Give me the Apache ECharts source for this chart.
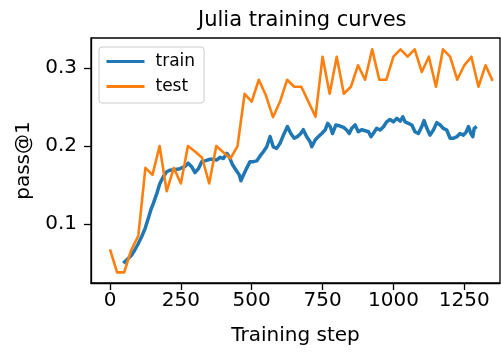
<!DOCTYPE html>
<html>
<head>
<meta charset="utf-8">
<script src="https://cdn.jsdelivr.net/npm/echarts@6/dist/echarts.min.js"></script>
<style>
html,body{margin:0;padding:0;background:#fff;}
#c{width:501px;height:354px;}
</style>
</head>
<body>
<div id="c"></div>
<script>
const titleText = 'Julia training curves';
const xName = 'Training step';
const yName = 'pass@1';
const xTicks = [0, 250, 500, 750, 1000, 1250];
const yTicks = [0.1, 0.2, 0.3];

const trainSteps = [47,53,65,76,88,100,112,124,135,144,153,165,176,188,200,212,229,247,265,276,288,300,312,324,335,353,365,376,388,400,412,421,433,445,456,462,471,482,494,506,518,529,541,553,565,576,588,600,612,626,638,650,661,673,682,694,706,712,724,735,747,759,768,777,785,797,812,824,835,844,853,865,876,888,900,912,921,929,941,953,965,976,988,1000,1012,1024,1033,1041,1053,1065,1076,1088,1100,1108,1118,1129,1141,1153,1165,1176,1188,1200,1212,1224,1235,1247,1257,1265,1273,1280,1285,1294];
const trainValues = [0.0496,0.049,0.056,0.060,0.067,0.075,0.084,0.0945,0.107,0.118,0.1265,0.139,0.152,0.1605,0.167,0.169,0.170,0.171,0.174,0.178,0.1735,0.166,0.171,0.180,0.181,0.183,0.183,0.182,0.1855,0.184,0.1906,0.186,0.1756,0.169,0.163,0.1555,0.163,0.1714,0.180,0.180,0.181,0.187,0.1927,0.199,0.212,0.199,0.197,0.2035,0.214,0.225,0.216,0.210,0.212,0.216,0.221,0.212,0.2055,0.199,0.2077,0.212,0.216,0.2205,0.229,0.225,0.216,0.227,0.2256,0.224,0.2205,0.216,0.2227,0.227,0.2183,0.221,0.2196,0.2183,0.212,0.216,0.2227,0.2205,0.2247,0.231,0.234,0.231,0.2355,0.232,0.2375,0.231,0.229,0.227,0.2183,0.216,0.225,0.2325,0.2227,0.214,0.2205,0.230,0.227,0.2227,0.2205,0.210,0.210,0.212,0.216,0.214,0.2183,0.225,0.216,0.212,0.2227,0.225];

const testSteps = [0,25,50,75,100,125,150,175,200,225,250,275,300,325,350,375,400,425,450,475,500,525,550,575,600,625,650,675,700,725,750,775,800,825,850,875,900,925,950,975,1000,1025,1050,1075,1100,1125,1150,1175,1200,1225,1250,1275,1300,1325,1350];
const testValues = [0.0676,0.038,0.038,0.0667,0.085,0.172,0.163,0.200,0.142,0.172,0.152,0.200,0.193,0.185,0.152,0.200,0.192,0.184,0.200,0.267,0.257,0.285,0.265,0.237,0.257,0.285,0.276,0.276,0.257,0.2375,0.3145,0.267,0.3145,0.267,0.276,0.3035,0.285,0.324,0.285,0.285,0.3145,0.324,0.3145,0.324,0.295,0.3145,0.276,0.324,0.3145,0.285,0.3035,0.3145,0.276,0.3035,0.2835];

const trainData = trainSteps.map((s, i) => [s, trainValues[i]]);
const testData = testSteps.map((s, i) => [s, testValues[i]]);

const FONT = 'DejaVu Sans';
const chart = echarts.init(document.getElementById('c'), null, {renderer: 'canvas'});
chart.setOption({
  animation: false,
  backgroundColor: '#fff',
  textStyle: {fontFamily: FONT},
  title: {
    text: titleText,
    left: 193, top: 5,
    textStyle: {fontFamily: FONT, fontSize: 21, fontWeight: 'normal', color: '#000'}
  },
  grid: {
    left: 91, top: 38, right: 1, bottom: 71,
    show: true, borderColor: '#000', borderWidth: 1.3, backgroundColor: 'transparent'
  },
  legend: {
    orient: 'vertical',
    left: 99, top: 47,
    data: ['train', 'test'],
    itemWidth: 38, itemHeight: 14, itemGap: 8,
    padding: [6, 9, 8, 6],
    backgroundColor: 'rgba(255,255,255,0.8)',
    borderColor: '#cccccc', borderWidth: 1, borderRadius: 3,
    textStyle: {fontFamily: FONT, fontSize: 17, color: '#000', lineHeight: 17, padding: [0,0,0,6]},
    lineStyle: {width: 3},
    itemStyle: {opacity: 0}
  },
  xAxis: {
    type: 'value', min: -67, max: 1376,
    name: xName, nameLocation: 'middle', nameGap: 43,
    nameTextStyle: {fontFamily: FONT, fontSize: 20, color: '#000'},
    axisLine: {show: true, onZero: false, lineStyle: {color: '#000', width: 1.3}},
    axisTick: {show: true, length: 7, lineStyle: {color: '#000', width: 1.3}, customValues: xTicks},
    axisLabel: {fontFamily: FONT, fontSize: 20, color: '#000', margin: 8, customValues: xTicks,
      formatter: v => String(Math.round(v))},
    splitLine: {show: false}
  },
  yAxis: {
    type: 'value', min: 0.0244, max: 0.3385,
    name: yName, nameLocation: 'middle', nameGap: 56, nameRotate: 90,
    nameTextStyle: {fontFamily: FONT, fontSize: 20, color: '#000'},
    axisLine: {show: true, onZero: false, lineStyle: {color: '#000', width: 1.3}},
    axisTick: {show: true, length: 7, lineStyle: {color: '#000', width: 1.3}, customValues: yTicks},
    axisLabel: {fontFamily: FONT, fontSize: 20, color: '#000', margin: 14, customValues: yTicks,
      formatter: v => v.toFixed(1)},
    splitLine: {show: false}
  },
  series: [
    {
      name: 'train', type: 'line', data: trainData,
      symbol: 'none', showSymbol: false,
      lineStyle: {color: '#1f77b4', width: 3.5, join: 'round'},
      itemStyle: {color: '#1f77b4'},
      z: 2
    },
    {
      name: 'test', type: 'line', data: testData,
      symbol: 'none', showSymbol: false,
      lineStyle: {color: '#ff7f0e', width: 2.6, join: 'round'},
      itemStyle: {color: '#ff7f0e'},
      z: 3
    }
  ]
});
</script>
</body>
</html>
